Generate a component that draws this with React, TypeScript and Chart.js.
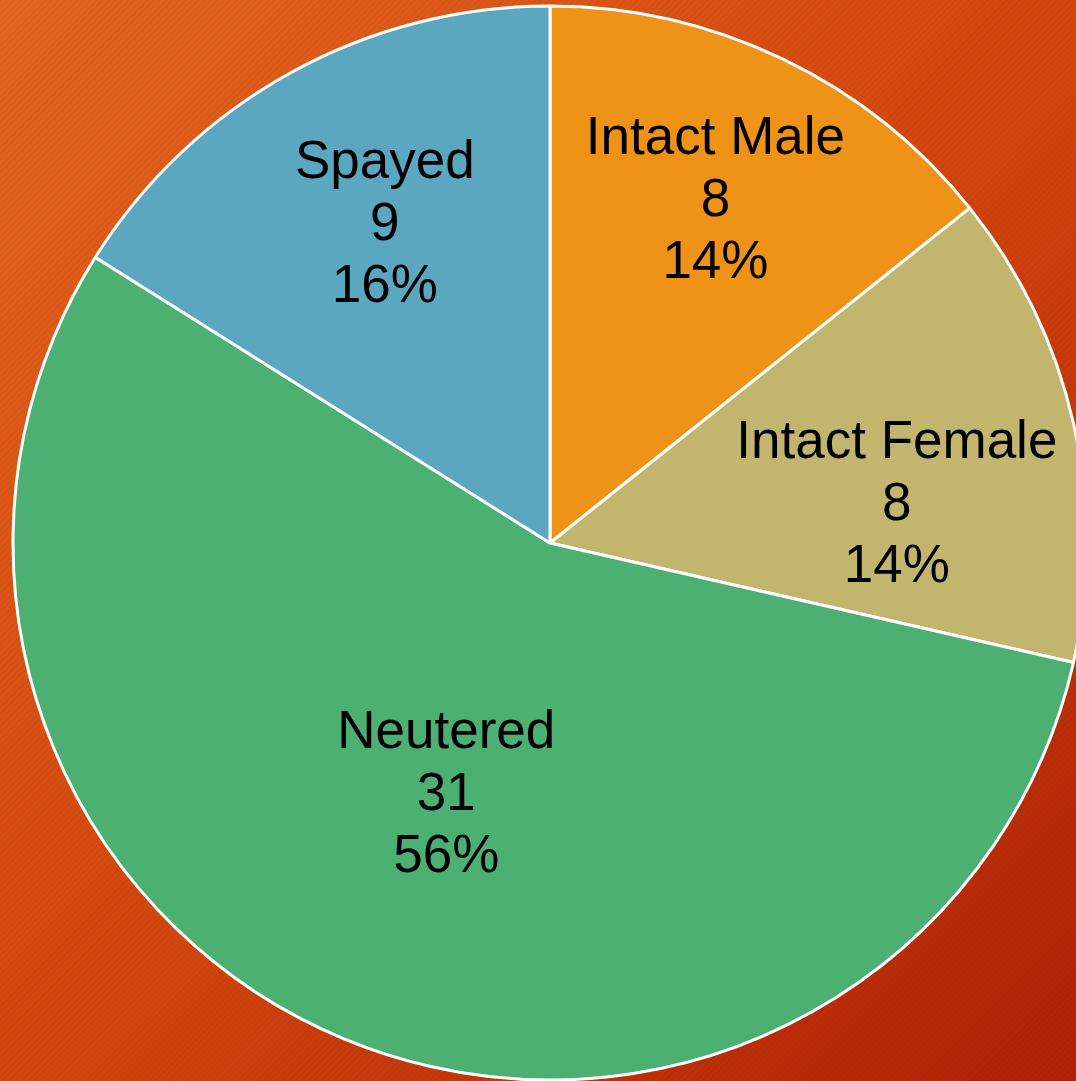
import React, { useEffect, useRef } from "react";
import { Chart, registerables } from "chart.js";

Chart.register(...registerables);

const categories = ["Intact Male", "Intact Female", "Neutered", "Spayed"];
const counts = [8, 8, 31, 9];
const percentLabels = ["14%", "14%", "56%", "16%"];
const sliceColors = ["#EE9318", "#C2B56E", "#4CB073", "#5BA7C0"];

// label placement (fraction of radius, angular shift in degrees)
const LABEL_RADIUS = [0.71, 0.65, 0.505, 0.67];
const LABEL_SHIFT_DEG = [0, 6.4, 0, 1.6];

const labelPlugin = {
  id: "sliceLabels",
  afterDatasetsDraw(chart: any) {
    const ctx = chart.ctx;
    const meta = chart.getDatasetMeta(0);
    ctx.save();
    ctx.font = '53px "Liberation Sans", Arial, sans-serif';
    ctx.fillStyle = "#000";
    ctx.textAlign = "center";
    ctx.textBaseline = "middle";
    meta.data.forEach((arc: any, i: number) => {
      const p = arc.getProps(["x", "y", "startAngle", "endAngle", "outerRadius"], true);
      const mid = (p.startAngle + p.endAngle) / 2 + (LABEL_SHIFT_DEG[i] * Math.PI) / 180;
      const r = p.outerRadius * LABEL_RADIUS[i];
      const cx = p.x + Math.cos(mid) * r;
      const cy = p.y + Math.sin(mid) * r;
      const lines = [categories[i], String(counts[i]), percentLabels[i]];
      lines.forEach((t, k) => ctx.fillText(t, cx, cy + (k - 1) * 62 + 2));
    });
    ctx.restore();
  },
};

export default function App() {
  const ref = useRef<HTMLCanvasElement | null>(null);
  useEffect(() => {
    if (!ref.current) return;
    const chart = new Chart(ref.current, {
      type: "pie",
      data: {
        labels: categories,
        datasets: [
          {
            data: counts,
            backgroundColor: sliceColors,
            borderColor: "#FFFFFF",
            borderWidth: 3,
            radius: 537,
          } as any,
        ],
      },
      options: {
        responsive: false,
        animation: false,
        layout: { padding: 0 },
        plugins: {
          legend: { display: false },
          tooltip: { enabled: false },
        },
      },
      plugins: [labelPlugin],
    });
    return () => chart.destroy();
  }, []);

  return (
    <div
      style={{
        position: "fixed",
        left: 0,
        top: 0,
        width: 1076,
        height: 1081,
        overflow: "hidden",
        background:
          "repeating-linear-gradient(135deg, rgba(0,0,0,0.035) 0px, rgba(0,0,0,0.035) 2px, rgba(255,255,255,0) 2px, rgba(255,255,255,0) 4.5px), linear-gradient(135deg, #E5661F 0%, #D4470E 50%, #AF2205 100%)",
      }}
    >
      <canvas ref={ref} width={1100} height={1086} style={{ width: 1100, height: 1086, display: "block" }} />
    </div>
  );
}
